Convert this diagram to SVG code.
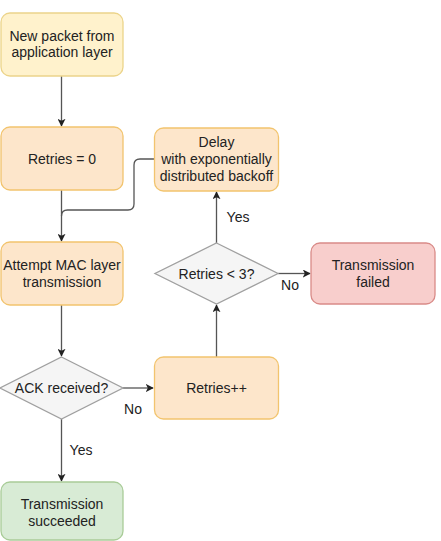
<svg xmlns="http://www.w3.org/2000/svg" width="441" height="541" viewBox="0 0 441 541">
<defs>
<style>
text{font-family:"Liberation Sans",Arial,sans-serif;font-size:14px;fill:#222;text-anchor:middle}
.orange{fill:#fde6cb;stroke:#f2c46e;stroke-width:1.3}
.yellow{fill:#fff2cc;stroke:#ecd48a;stroke-width:1.3}
.red{fill:#f8cecc;stroke:#d98b88;stroke-width:1.3}
.green{fill:#d8ebd5;stroke:#a9cc98;stroke-width:1.3}
.dia{fill:#f5f5f5;stroke:#a0a0a0;stroke-width:1.3}
.edge{fill:none;stroke:#555;stroke-width:1.3}
</style>
<marker id="arr" viewBox="0 0 10 10" refX="9" refY="5" markerWidth="8" markerHeight="8" orient="auto" markerUnits="userSpaceOnUse">
<path d="M0,0 L10,5 L0,10 L2.5,5 Z" fill="#222"/>
</marker>
</defs>
<rect width="441" height="541" fill="#fff"/>
<g id="connectors">
<path class="edge" d="M61.5,76 V126" marker-end="url(#arr)"/>
<path class="edge" d="M61.5,190 V241" marker-end="url(#arr)"/>
<path class="edge" d="M154,159 H140 Q134,159 134,165 V204 Q134,210 128,210 H67.5 Q61.5,210 61.5,216"/>
<path class="edge" d="M61.5,305 V356" marker-end="url(#arr)"/>
<path class="edge" d="M123,388 H153" marker-end="url(#arr)"/>
<path class="edge" d="M61.5,419 V481" marker-end="url(#arr)"/>
<path class="edge" d="M216.5,357 V305" marker-end="url(#arr)"/>
<path class="edge" d="M216.5,243 V192" marker-end="url(#arr)"/>
<path class="edge" d="M278,273.5 H310" marker-end="url(#arr)"/>
<text x="81" y="455">Yes</text>
<text x="133" y="414">No</text>
<text x="238" y="222">Yes</text>
<text x="290" y="290">No</text>
</g>
<g id="n1"><rect class="yellow" x="1" y="13" width="122" height="63" rx="9"/><text x="62" y="41">New packet from</text><text x="62" y="57">application layer</text></g>
<g id="n2"><rect class="orange" x="1" y="127" width="122" height="63" rx="9"/><text x="62" y="164">Retries = 0</text></g>
<g id="n3"><rect class="orange" x="154.5" y="128" width="124" height="63" rx="9"/><text x="216.5" y="147">Delay</text><text x="216.5" y="164">with exponentially</text><text x="216.5" y="181">distributed backoff</text></g>
<g id="n4"><rect class="orange" x="1" y="242" width="122" height="63" rx="9"/><text x="62" y="270">Attempt MAC layer</text><text x="62" y="287">transmission</text></g>
<g id="n5"><path class="dia" d="M216.5,243 L278,273.5 L216.5,304 L155,273.5 Z"/><text x="216.5" y="278.5">Retries &lt; 3?</text></g>
<g id="n6"><rect class="red" x="311" y="243" width="124" height="61" rx="9"/><text x="373" y="270">Transmission</text><text x="373" y="287">failed</text></g>
<g id="n7"><path class="dia" d="M61.5,357 L123,388 L61.5,419 L0,388 Z"/><text x="61.5" y="393">ACK received?</text></g>
<g id="n8"><rect class="orange" x="154.5" y="357" width="124" height="62" rx="9"/><text x="216.5" y="393">Retries++</text></g>
<g id="n9"><rect class="green" x="1" y="482" width="122" height="58" rx="9"/><text x="62" y="509">Transmission</text><text x="62" y="526">succeeded</text></g>
</svg>
